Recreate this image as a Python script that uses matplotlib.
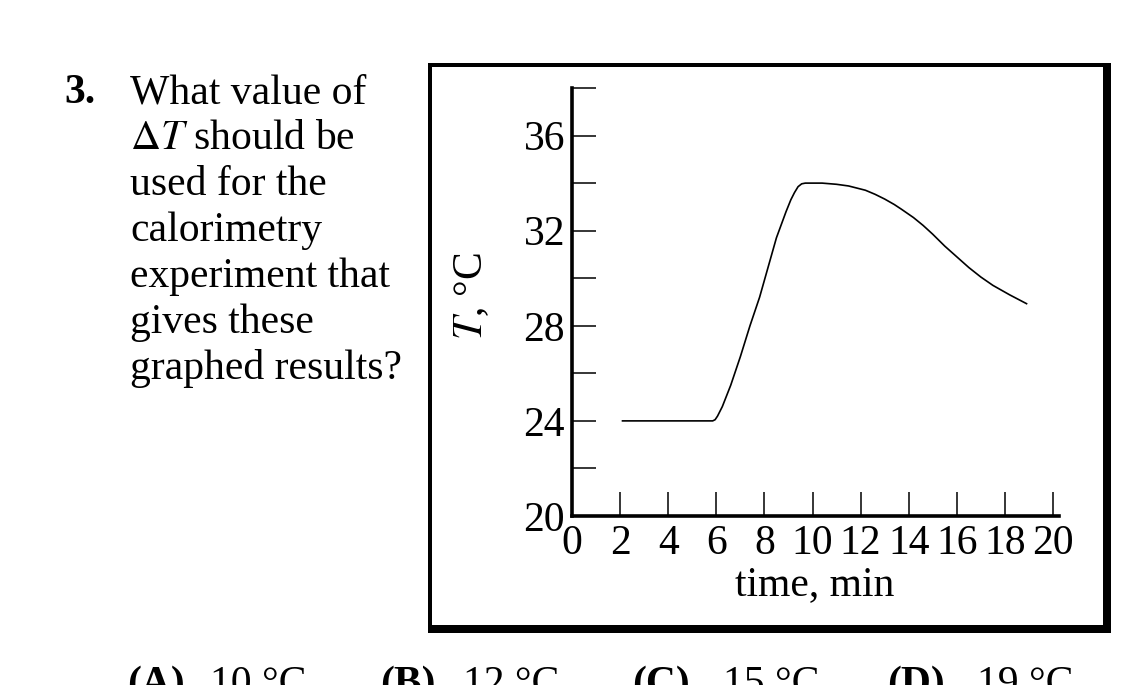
import matplotlib
matplotlib.use('Agg')
import matplotlib.pyplot as plt
from matplotlib.patches import Rectangle

plt.rcParams['font.family'] = ['Liberation Serif', 'DejaVu Serif']
plt.rcParams['mathtext.fontset'] = 'stix'

# Data
time_min = [2.1, 5.85, 5.95, 6.05, 6.25, 6.6, 7.0, 7.4, 7.8, 8.15, 8.5, 8.9,
            9.1, 9.25, 9.4, 9.55, 9.7, 10.0, 10.4, 11.0, 11.5, 12.2, 12.6,
            13.0, 13.4, 13.7, 14.2, 14.6, 15.0, 15.5, 16.0, 16.5, 17.0, 17.5,
            18.2, 18.9]
temp_c = [24.0, 24.0, 24.05, 24.2, 24.6, 25.5, 26.7, 28.0, 29.2, 30.45, 31.7,
          32.8, 33.3, 33.6, 33.85, 33.97, 34.0, 34.0, 34.0, 33.95, 33.88, 33.7,
          33.53, 33.33, 33.1, 32.9, 32.55, 32.22, 31.85, 31.35, 30.9, 30.45,
          30.05, 29.7, 29.3, 28.93]

x_ticks = list(range(0, 21, 2))
y_major = [20, 24, 28, 32, 36]
y_minor = [22, 26, 30, 34, 38]

question = ["What value of", r"$\Delta T$ should be", "used for the",
            "calorimetry", "experiment that", "gives these",
            "graphed results?"]
choices = [("(A)", "10 °C"), ("(B)", "12 °C"), ("(C)", "15 °C"),
           ("(D)", "19 °C")]

W, H = 1145, 685
fs = 30
fig = plt.figure(figsize=(W / 100, H / 100), dpi=100)


def fx(px):
    return px / W


def fy(py):
    return 1 - py / H


# axes placement (pixels): x=0 at 572, 24.05 px/unit; y=20 at 516
ax_left, ax_bottom_px, ax_top_px = 572, 516, 88
xmax = 20.25
ax = fig.add_axes([fx(ax_left), fy(ax_bottom_px),
                   xmax * 24.05 / W, (ax_bottom_px - ax_top_px) / H])

ax.plot(time_min, temp_c, color='black', linewidth=1.2,
        solid_joinstyle='round')

ax.set_xlim(0, xmax)
ax.set_ylim(20, 38)
ax.set_xticks(x_ticks)
ax.set_xticklabels([str(t) for t in x_ticks])
ax.set_yticks(y_major)
ax.set_yticklabels([str(t) for t in y_major])
ax.set_yticks(y_minor, minor=True)

for side in ['top', 'right']:
    ax.spines[side].set_visible(False)
for side in ['left', 'bottom']:
    ax.spines[side].set_linewidth(2.6)

ax.tick_params(axis='both', which='both', direction='in', length=17,
               width=1.1, labelsize=fs, color='black')
ax.tick_params(axis='x', pad=6)
ax.tick_params(axis='y', pad=5)
ax.patch.set_alpha(0)

# labels
fig.text(fx(815), fy(595), "time, min", fontsize=fs, ha='center',
         va='baseline')
fig.text(fx(472), fy(296), r"$T$, °C", fontsize=fs, rotation=90,
         ha='center', va='center')

# frame around the graph
black = dict(facecolor='black', edgecolor='none', transform=fig.transFigure)
fig.add_artist(Rectangle((fx(428), fy(633)), fx(4), (633 - 63) / H, **black))
fig.add_artist(Rectangle((fx(428), fy(67)), fx(1111 - 428), 4 / H, **black))
fig.add_artist(Rectangle((fx(1103), fy(633)), fx(8), (633 - 63) / H, **black))
fig.add_artist(Rectangle((fx(428), fy(633)), fx(1111 - 428), 8 / H, **black))

# question text
fig.text(fx(64), fy(103), "3.", fontsize=fs, fontweight='bold',
         va='baseline')
for i, line in enumerate(question):
    fig.text(fx(130), fy(103 + 46 * i), line, fontsize=fs, va='baseline')

# answer choices (cut off at the bottom edge, as in the source page)
choice_x = [(127, 210), (380, 463), (632, 723), (887, 977)]
for (letter, val), (lx, vx) in zip(choices, choice_x):
    fig.text(fx(lx), fy(695), letter, fontsize=fs, fontweight='bold',
             va='baseline')
    fig.text(fx(vx), fy(695), val, fontsize=fs, va='baseline')

fig.savefig('out.png', dpi=100)
